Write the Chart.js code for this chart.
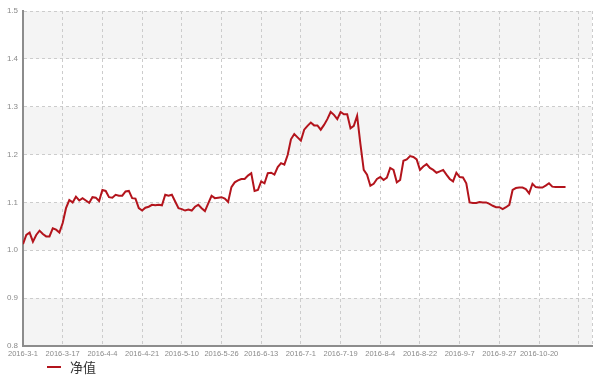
<!DOCTYPE html>
<html lang="zh-CN">
<head>
<meta charset="utf-8">
<title>净值</title>
<script src="https://cdn.jsdelivr.net/npm/chart.js@4"></script>
<style>
    html, body { margin: 0; padding: 0; background: #ffffff; }
    #grafico { display: block; }
</style>
</head>
<body>
<canvas id="grafico" width="598" height="376"></canvas>
<script>
// Valores de 净值 (un punto por día hábil desde 2016-3-1)
const valores = [
    1.013, 1.032, 1.037, 1.018, 1.032, 1.041, 1.034, 1.029, 1.029, 1.046,
    1.043, 1.037, 1.057, 1.088, 1.105, 1.100, 1.112, 1.104, 1.109, 1.104,
    1.099, 1.111, 1.110, 1.103, 1.126, 1.124, 1.111, 1.110, 1.116, 1.114,
    1.114, 1.123, 1.124, 1.109, 1.108, 1.088, 1.083, 1.089, 1.091, 1.095,
    1.094, 1.095, 1.094, 1.116, 1.114, 1.116, 1.102, 1.088, 1.086, 1.083,
    1.085, 1.083, 1.091, 1.095, 1.088, 1.082, 1.098, 1.114, 1.109, 1.110,
    1.111, 1.108, 1.101, 1.132, 1.142, 1.146, 1.149, 1.149, 1.156, 1.161,
    1.124, 1.126, 1.144, 1.140, 1.161, 1.162, 1.158, 1.174, 1.182, 1.179,
    1.199, 1.232, 1.243, 1.236, 1.229, 1.252, 1.260, 1.267, 1.261, 1.261,
    1.252, 1.262, 1.274, 1.289, 1.283, 1.274, 1.289, 1.284, 1.284, 1.255,
    1.260, 1.281, 1.222, 1.168, 1.158, 1.135, 1.139, 1.149, 1.153, 1.147,
    1.152, 1.172, 1.168, 1.142, 1.147, 1.187, 1.190, 1.197, 1.195, 1.190,
    1.168, 1.175, 1.180, 1.172, 1.168, 1.162, 1.165, 1.168, 1.158, 1.149,
    1.144, 1.162, 1.153, 1.152, 1.140, 1.100, 1.099, 1.099, 1.101, 1.100,
    1.100, 1.097, 1.093, 1.090, 1.090, 1.086, 1.090, 1.095, 1.126, 1.130,
    1.131, 1.131, 1.128, 1.119, 1.139, 1.132, 1.131, 1.131, 1.135, 1.140,
    1.133, 1.132, 1.132, 1.132, 1.132
];

// Etiquetas del eje X, una cada 12 días hábiles
const etiquetasX = [
    '2016-3-1', '2016-3-17', '2016-4-4', '2016-4-21', '2016-5-10', '2016-5-26', '2016-6-13',
    '2016-7-1', '2016-7-19', '2016-8-4', '2016-8-22', '2016-9-7', '2016-9-27', '2016-10-20'
];
const pasoEtiquetas = 12;
const indiceFinal = 172;

// Rango del eje Y
const minimoY = 0.8;
const maximoY = 1.5;
const pasoY = 0.1;

const nombreSerie = '净值';

document.addEventListener('DOMContentLoaded', function() {
    const colorLinea = '#b3141c';
    const fuente = "'Liberation Sans', Arial, sans-serif";

    // Posiciones de las líneas verticales (incluye el borde derecho)
    const posicionesX = [];
    for (let i = 0; i <= indiceFinal; i += pasoEtiquetas) posicionesX.push(i);
    posicionesX.push(indiceFinal);

    // Franjas grises alternas en el fondo
    const franjas = {
        id: 'franjas',
        beforeDraw(chart) {
            const { ctx, chartArea, scales } = chart;
            const y = scales.y;
            ctx.save();
            ctx.fillStyle = '#f4f4f4';
            let n = 0;
            for (let v = minimoY; v < maximoY - 1e-9; v += pasoY) {
                if (n % 2 === 0) {
                    const top = y.getPixelForValue(v + pasoY);
                    const bottom = y.getPixelForValue(v);
                    ctx.fillRect(chartArea.left, top, chartArea.right - chartArea.left, bottom - top);
                }
                n++;
            }
            ctx.restore();
        }
    };

    // Leyenda simple abajo a la izquierda
    const leyenda = {
        id: 'leyenda',
        afterDraw(chart) {
            const ctx = chart.ctx;
            ctx.save();
            ctx.strokeStyle = colorLinea;
            ctx.lineWidth = 2;
            ctx.beginPath();
            ctx.moveTo(47, 367);
            ctx.lineTo(61, 367);
            ctx.stroke();
            ctx.fillStyle = '#333333';
            ctx.font = "13px 'Noto Sans CJK SC', sans-serif";
            ctx.textBaseline = 'middle';
            ctx.fillText(nombreSerie, 70, 367);
            ctx.restore();
        }
    };

    const ctx = document.getElementById('grafico').getContext('2d');
    new Chart(ctx, {
        type: 'line',
        data: {
            datasets: [{
                label: nombreSerie,
                data: valores.map((v, i) => ({ x: i, y: v })),
                borderColor: colorLinea,
                borderWidth: 2,
                pointRadius: 0,
                tension: 0,
                fill: false
            }]
        },
        options: {
            responsive: false,
            animation: false,
            devicePixelRatio: 1,
            layout: {
                padding: { top: 11, right: 6, bottom: 18, left: 0 }
            },
            plugins: {
                legend: { display: false },
                tooltip: { enabled: false }
            },
            scales: {
                x: {
                    type: 'linear',
                    min: 0,
                    max: indiceFinal,
                    afterBuildTicks: s => { s.ticks = posicionesX.map(v => ({ value: v })); },
                    afterFit: s => { s.height = 12; },
                    grid: {
                        color: '#cccccc',
                        drawTicks: false
                    },
                    border: {
                        color: '#8c8c8c',
                        width: 2,
                        dash: [3, 3]
                    },
                    ticks: {
                        autoSkip: false,
                        maxRotation: 0,
                        padding: 3,
                        color: '#8a8a8a',
                        font: { family: fuente, size: 7.5 },
                        callback: function(valor) {
                            if (valor % pasoEtiquetas !== 0) return '';
                            return etiquetasX[valor / pasoEtiquetas] || '';
                        }
                    }
                },
                y: {
                    min: minimoY,
                    max: maximoY,
                    afterFit: s => { s.width = 23; },
                    grid: {
                        color: '#cccccc',
                        drawTicks: false
                    },
                    border: {
                        color: '#8c8c8c',
                        width: 2,
                        dash: [3, 3]
                    },
                    ticks: {
                        stepSize: pasoY,
                        padding: 5,
                        color: '#8a8a8a',
                        font: { family: fuente, size: 8 },
                        callback: valor => Number(valor).toFixed(1)
                    }
                }
            }
        },
        plugins: [franjas, leyenda]
    });
});
</script>
</body>
</html>
